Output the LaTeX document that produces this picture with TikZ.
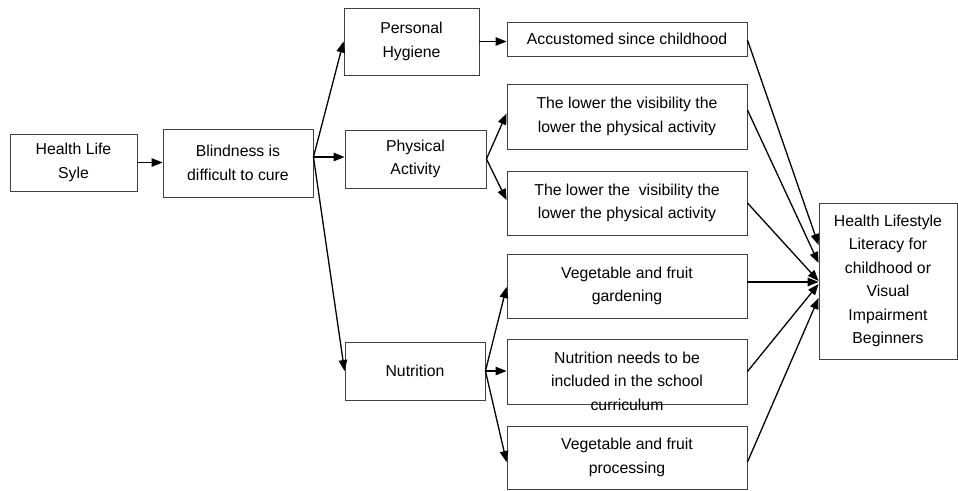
\documentclass[tikz,border=0pt]{standalone}
\usepackage{fontspec}
\setmainfont{Liberation Sans}
\usetikzlibrary{arrows.meta,calc}
\begin{document}
\begin{tikzpicture}[x=1pt,y=-1pt,
  box/.style={draw=black!75,line width=0.9pt,inner sep=0pt,align=center,font=\fontsize{15.8}{23.5}\selectfont},
  txt/.style={inner sep=0pt,align=center,font=\fontsize{15.8}{23.5}\selectfont},
  arr/.style={line width=1.3pt,-{Triangle[length=11pt,width=8.5pt]}}]
\fill[white] (0,0) rectangle (958,490);
\useasboundingbox (0,0) rectangle (958,490);
% boxes
\node[box,minimum width=127pt,minimum height=57pt] (hl) at (73.5,162.5) {Health Life\\Syle};
\node[box,minimum width=150pt,minimum height=68pt] (bl) at (238,163) {Blindness is\\difficult to cure};
\node[box,minimum width=135pt,minimum height=67pt] (ph) at (411.5,41.5) {Personal\\Hygiene};
\node[box,minimum width=141pt,minimum height=58pt] (pa) at (415.5,159) {Physical\\Activity};
\node[box,minimum width=140pt,minimum height=58pt] (nu) at (415,371) {Nutrition};
\node[box,minimum width=240pt,minimum height=34pt] (ac) at (627,39) {Accustomed since childhood};
\node[box,minimum width=240pt,minimum height=65pt] (l1) at (627,116.5) {The lower the visibility the\\lower the physical activity};
\node[box,minimum width=240pt,minimum height=64pt] (l2) at (627,203) {The lower the\ \ visibility the\\lower the physical activity};
\node[box,minimum width=240pt,minimum height=64pt] (vg) at (627,286) {Vegetable and fruit\\gardening};
\node[box,minimum width=240pt,minimum height=65pt] (nn) at (627,371.5) {};
\node[txt] (nnt) at (627,381) {Nutrition needs to be\\included in the school\\curriculum};
\node[box,minimum width=240pt,minimum height=63pt] (vp) at (627,457.5) {Vegetable and fruit\\processing};
\node[box,minimum width=138pt,minimum height=156pt] (hs) at (888,281) {Health Lifestyle\\Literacy for\\childhood or\\Visual\\Impairment\\Beginners};
% connectors
\draw[arr] (hl.east) -- (hl.east -| bl.west);
\coordinate (o1) at ([yshift=6pt]bl.east);
\draw[arr] (o1) -- (ph.west);
\draw[arr] (o1) -- (o1 -| pa.west);
\draw[arr] (o1) -- (nu.west);
\draw[arr] (ph.east) -- (ph.east -| ac.west);
\draw[arr] (pa.east) -- ([yshift=3pt]l1.west);
\draw[arr] (pa.east) -- ([yshift=3pt]l2.west);
\draw[arr] (nu.east) -- ([yshift=-1pt]vg.west);
\draw[arr] (nu.east) -- (nu.east -| nn.west);
\draw[arr] (nu.east) -- ([yshift=-4.5pt]vp.west);
\draw[arr] ([yshift=-1pt]ac.east) -- ([yshift=36pt]hs.west);
\draw[arr] ([yshift=6.5pt]l1.east) -- ([yshift=18pt]hs.west);
\draw[arr] (l2.east) -- (hs.west);
\draw[arr] ([yshift=4pt]vg.east) -- ([yshift=-1pt]hs.west);
\draw[arr] (nn.east) -- ([yshift=-3pt]hs.west);
\draw[arr] ([yshift=-4.5pt]vp.east) -- ([yshift=-17pt]hs.west);
\end{tikzpicture}
\end{document}
